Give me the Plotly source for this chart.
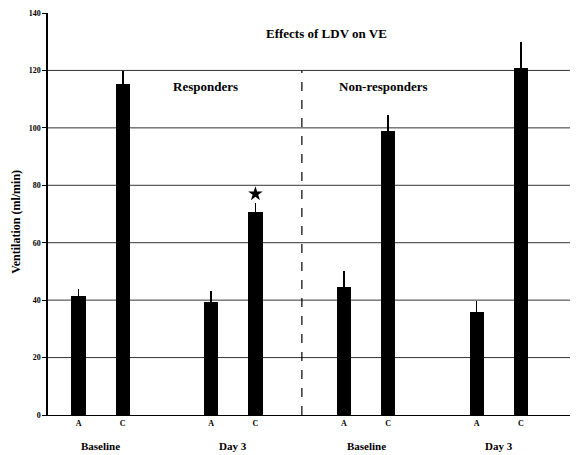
import plotly.graph_objects as go

# Data
bar_labels = ["A", "C", "A", "C", "A", "C", "A", "C"]
bar_positions = [0, 1, 3, 4, 6, 7, 9, 10]
values = [41.4, 115.3, 39.5, 70.7, 44.6, 99.0, 36.0, 121.0]
error_upper = [2.5, 4.5, 3.8, 3.2, 5.4, 5.5, 3.7, 9.0]
group_labels = ["Baseline", "Day 3", "Baseline", "Day 3"]
group_centers = [0.5, 3.5, 6.5, 9.5]
panel_labels = ["Responders", "Non-responders"]
panel_centers = [2.87, 6.9]
y_ticks = [0, 20, 40, 60, 80, 100, 120, 140]
star_position = 4
star_value = 77
divider_x = 5.05
title_text = "Effects of LDV on VE"
y_title = "Ventilation (ml/min)"

FONT = "Liberation Serif"

fig = go.Figure()
fig.add_trace(go.Bar(
    x=bar_positions, y=values, width=0.32,
    marker=dict(color="black", line=dict(width=0)),
    error_y=dict(type="data", array=error_upper, arrayminus=[0] * len(values),
                 symmetric=False, width=0, thickness=1.5, color="black"),
    showlegend=False,
))

# star marker
fig.add_trace(go.Scatter(
    x=[star_position], y=[star_value], mode="markers",
    marker=dict(symbol="star", size=11, color="black"), showlegend=False,
))

# divider
fig.add_shape(type="line", x0=divider_x, x1=divider_x, y0=0, y1=120,
              xref="x", yref="y", line=dict(color="black", width=1.2, dash="dash"))

annotations = []
for gl, gc in zip(group_labels, group_centers):
    annotations.append(dict(x=gc, y=-0.078, xref="x", yref="paper", text=f"<b>{gl}</b>",
                            showarrow=False, font=dict(family=FONT, size=11, color="black"),
                            yanchor="middle"))
for pl, pc in zip(panel_labels, panel_centers):
    annotations.append(dict(x=pc, y=114.5, xref="x", yref="y", text=f"<b>{pl}</b>",
                            showarrow=False, font=dict(family=FONT, size=13, color="black")))
annotations.append(dict(x=5.6, y=133, xref="x", yref="y", text=f"<b>{title_text}</b>",
                        showarrow=False, font=dict(family=FONT, size=13, color="black")))
annotations.append(dict(x=-0.078, y=0.48, xref="paper", yref="paper", text=f"<b>{y_title}</b>",
                        textangle=-90, showarrow=False,
                        font=dict(family=FONT, size=12, color="black")))

# page has an 8px body margin, so the figure is sized/offset to compensate
fig.update_layout(
    width=570, height=447,
    margin=dict(l=40, r=1, t=5, b=40),
    paper_bgcolor="white", plot_bgcolor="white",
    bargap=0,
    annotations=annotations,
    xaxis=dict(range=[-0.69, 11.27], tickvals=bar_positions,
               ticktext=[f"<b>{t}</b>" for t in bar_labels],
               showgrid=False, zeroline=False, showline=True, linecolor="black", linewidth=1.2,
               ticks="", ticklen=0, tickfont=dict(family=FONT, size=8, color="black")),
    yaxis=dict(range=[0, 140], tickvals=y_ticks,
               ticktext=[f"<b>{t}</b>" for t in y_ticks],
               ticks="outside", ticklen=4, tickwidth=1,
               tickcolor="black", showline=True, linecolor="black", linewidth=1.5,
               showgrid=False, zeroline=False,
               tickfont=dict(family=FONT, size=8, color="black")),
)

# gridlines (except 0 and 140)
for t in y_ticks[1:-1]:
    fig.add_shape(type="line", xref="paper", yref="y", x0=0, x1=1, y0=t, y1=t,
                  line=dict(color="#333", width=1), layer="below")

fig.write_html("out.html")
